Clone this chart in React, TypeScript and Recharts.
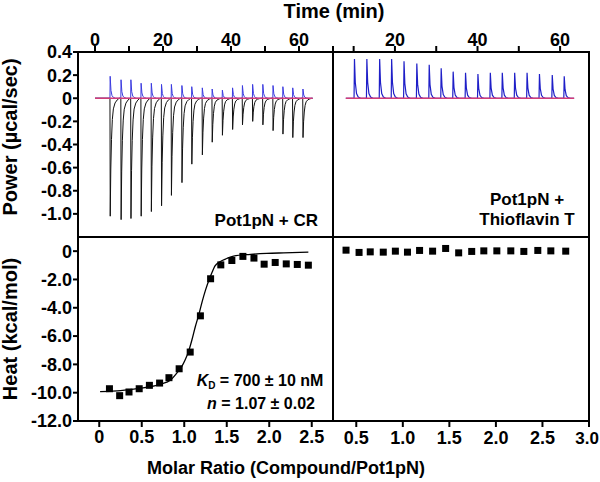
import React from 'react'
import { LineChart, Line, XAxis, YAxis, ComposedChart, Scatter } from 'recharts'

// Pot1pN + CR, raw power trace (injection times in min, peak power in µcal/sec)
const crInjTimes = [4.4, 7.6, 10.5, 13.5, 16.5, 19.5, 22.4, 25.5, 28.4, 31.5, 34.4, 37.4, 40.4, 43.3, 46.3, 49.3, 52.3, 55.2, 58.1, 61.1]
const crSamplePeaks = [-1.02, -1.05, -1.04, -1.02, -0.98, -0.93, -0.84, -0.73, -0.57, -0.49, -0.38, -0.32, -0.27, -0.23, -0.2, -0.23, -0.28, -0.31, -0.34, -0.34]
const crBufferPeaks = [0.19, 0.16, 0.16, 0.13, 0.13, 0.12, 0.12, 0.11, 0.1, 0.09, 0.08, 0.07, 0.09, 0.11, 0.12, 0.12, 0.11, 0.1, 0.09, 0.08]

// Pot1pN + Thioflavin T, raw power trace
const thtInjTimes = [10.1, 13.1, 16.2, 19.1, 22.1, 25.2, 28.2, 31.1, 34.0, 37.0, 40.0, 43.0, 45.9, 48.9, 51.9, 54.9, 58.0, 60.9]
const thtPeaks = [0.34, 0.34, 0.34, 0.34, 0.32, 0.3, 0.29, 0.26, 0.23, 0.22, 0.21, 0.22, 0.22, 0.22, 0.22, 0.21, 0.2, 0.19]

// integrated heats (kcal/mol) vs molar ratio
const crRatio = [0.12, 0.24, 0.35, 0.47, 0.59, 0.71, 0.82, 0.94, 1.07, 1.19, 1.31, 1.43, 1.56, 1.69, 1.82, 1.94, 2.07, 2.2, 2.33, 2.46]
const crHeat = [-9.72, -10.21, -9.95, -9.72, -9.48, -9.32, -8.94, -8.31, -7.13, -4.57, -1.95, -0.97, -0.66, -0.37, -0.49, -0.92, -0.8, -0.9, -0.94, -0.99]

// fitted one-site curve
const fitRatio = [0.01, 0.13, 0.25, 0.36, 0.48, 0.6, 0.72, 0.84, 0.91, 0.97, 1.01, 1.05, 1.09, 1.13, 1.17, 1.21, 1.25, 1.29, 1.33, 1.36, 1.42, 1.5, 1.58, 1.78, 1.97, 2.17, 2.46]
const fitHeat = [-9.93, -9.9, -9.86, -9.79, -9.69, -9.58, -9.39, -9.1, -8.63, -8.16, -7.69, -7.1, -6.28, -5.34, -4.52, -3.58, -2.75, -2.05, -1.46, -1.06, -0.75, -0.52, -0.35, -0.23, -0.16, -0.12, -0.07]

const thtRatio = [0.39, 0.53, 0.65, 0.79, 0.92, 1.05, 1.18, 1.32, 1.46, 1.6, 1.74, 1.87, 2.01, 2.16, 2.3, 2.45, 2.59, 2.75]
const thtHeat = [0.07, -0.09, -0.05, -0.07, 0, -0.07, 0.05, 0, 0.19, -0.12, -0.02, 0.02, 0.02, 0.02, -0.02, 0.05, 0.02, 0]

// peak shapes: [offset min, fraction of peak]
const sampleShape = [[0, 0], [0.08, 1], [0.25, 0.6], [0.45, 0.35], [0.7, 0.18], [1.0, 0.09], [1.5, 0.04], [2.1, 0.015], [2.7, 0]]
const bufferShape = [[0, 0], [0.06, 1], [0.3, 0.35], [0.6, 0.12], [1.0, 0.04], [1.6, 0]]
const thtShape = [[0, 0], [0.1, 1], [0.3, 0.4], [0.6, 0.12], [1.0, 0.03], [1.6, 0]]

function trace(times: number[], peaks: number[], shape: number[][], start: number, end: number) {
  const pts = [{ t: start, p: 0 }]
  times.forEach((t0, i) => shape.forEach(([dt, f]) => pts.push({ t: t0 + dt, p: peaks[i] * f })))
  pts.push({ t: end, p: 0 })
  return pts
}

const crSample = trace(crInjTimes, crSamplePeaks, sampleShape, 0, 64)
const crBuffer = trace(crInjTimes, crBufferPeaks, bufferShape, 0, 64)
const crBase = [{ t: 0, p: 0 }, { t: 64, p: 0 }]
const thtTrace = trace(thtInjTimes, thtPeaks, thtShape, 8.1, 63.4)
const thtBase = [{ t: 8.1, p: 0 }, { t: 63.4, p: 0 }]

const crPoints = crRatio.map((x, i) => ({ x, y: crHeat[i] }))
const crFit = fitRatio.map((x, i) => ({ x, y: fitHeat[i] }))
const thtPoints = thtRatio.map((x, i) => ({ x, y: thtHeat[i] }))

const FONT = '"Liberation Sans", Arial, Helvetica, sans-serif'
const tickStyle = { fill: '#000', fontSize: 18, fontWeight: 700, fontFamily: FONT }
const tickLine = { stroke: '#000', strokeWidth: 2 }
const fmt = (v: number) => (v === 0 ? '0' : v.toFixed(1))

// last label sits on the page edge, so pull it in
const RatioTick = (props: any) => {
  const { x, y, payload } = props
  const last = payload.value === 3
  return (
    <text x={last ? x + 10 : x} y={y + 14} textAnchor={last ? 'end' : 'middle'} {...tickStyle} fontSize={last ? 17 : 18}>
      {fmt(payload.value)}
    </text>
  )
}

const Square = (props: any) => (
  <rect x={props.cx - 3.5} y={props.cy - 3.5} width={7} height={7} fill="#000" />
)

const abs = (left: number, top: number): React.CSSProperties => ({ position: 'absolute', left, top })

export default function App() {
  return (
    <div style={{ position: 'absolute', left: 0, top: 0, width: 600, height: 482, background: '#fff', fontFamily: FONT, fontWeight: 700, color: '#000' }}>
      {/* top left: raw trace, CR */}
      <div style={abs(0, 0)}>
        <LineChart width={333} height={237} margin={{ top: 22, left: 18, right: 0, bottom: 0 }}>
          <XAxis type="number" dataKey="t" orientation="top" domain={[-5, 70]} ticks={[0, 10, 20, 30, 40, 50, 60]}
            tickFormatter={(v: number) => (v % 20 === 0 ? String(v) : '')} axisLine={false} tickLine={tickLine}
            tickSize={6} tickMargin={0} tick={tickStyle} height={30} allowDataOverflow interval={0} />
          <YAxis type="number" domain={[-1.2, 0.4]} ticks={[0.4, 0.2, 0, -0.2, -0.4, -0.6, -0.8, -1.0]} tickFormatter={fmt}
            axisLine={false} tickLine={tickLine} tickSize={5} tickMargin={1} tick={tickStyle} width={60} allowDataOverflow interval={0} />
          <Line data={crSample} dataKey="p" stroke="#111" strokeWidth={1} dot={false} isAnimationActive={false} />
          <Line data={crBuffer} dataKey="p" stroke="#3b3be0" strokeWidth={1} dot={false} isAnimationActive={false} />
          <Line data={crBase} dataKey="p" stroke="#d23c78" strokeWidth={1.5} dot={false} isAnimationActive={false} />
        </LineChart>
      </div>

      {/* top right: raw trace, ThT */}
      <div style={abs(333, 0)}>
        <LineChart width={267} height={237} margin={{ top: 22, left: 0, right: 11, bottom: 0 }}>
          <XAxis type="number" dataKey="t" orientation="top" domain={[5, 67]} ticks={[10, 20, 30, 40, 50, 60]}
            tickFormatter={(v: number) => (v % 20 === 0 ? String(v) : '')} axisLine={false} tickLine={tickLine}
            tickSize={6} tickMargin={0} tick={tickStyle} height={30} allowDataOverflow interval={0} />
          <YAxis hide type="number" domain={[-1.2, 0.4]} allowDataOverflow />
          <Line data={thtTrace} dataKey="p" stroke="#1f1fc8" strokeWidth={1.2} dot={false} isAnimationActive={false} />
          <Line data={thtBase} dataKey="p" stroke="#d23c78" strokeWidth={1.5} dot={false} isAnimationActive={false} />
        </LineChart>
      </div>

      {/* bottom left: binding isotherm, CR */}
      <div style={abs(0, 237)}>
        <ComposedChart width={333} height={245} margin={{ top: 0, left: 18, right: 0, bottom: 31 }}>
          <XAxis type="number" dataKey="x" domain={[-0.25, 2.75]} ticks={[0, 0.5, 1, 1.5, 2, 2.5]} tickFormatter={fmt}
            axisLine={false} tickLine={tickLine} tickSize={6} tickMargin={3} tick={tickStyle} height={30} allowDataOverflow interval={0} />
          <YAxis type="number" dataKey="y" domain={[-12, 1]} ticks={[0, -2, -4, -6, -8, -10, -12]} tickFormatter={fmt}
            axisLine={false} tickLine={tickLine} tickSize={5} tickMargin={1} tick={tickStyle} width={60} allowDataOverflow interval={0} />
          <Line data={crFit} dataKey="y" type="monotone" stroke="#000" strokeWidth={1.3} dot={false} isAnimationActive={false} />
          <Scatter data={crPoints} dataKey="y" fill="#000" shape={Square} isAnimationActive={false} />
        </ComposedChart>
      </div>

      {/* bottom right: ThT heats */}
      <div style={abs(333, 237)}>
        <ComposedChart width={267} height={245} margin={{ top: 0, left: 0, right: 11, bottom: 31 }}>
          <XAxis type="number" dataKey="x" domain={[0.25, 3]} ticks={[0.5, 1, 1.5, 2, 2.5, 3]}
            axisLine={false} tickLine={tickLine} tickSize={6} tickMargin={3} tick={<RatioTick />} height={30} allowDataOverflow interval={0} />
          <YAxis hide type="number" dataKey="y" domain={[-12, 1]} allowDataOverflow />
          <Scatter data={thtPoints} dataKey="y" fill="#000" shape={Square} isAnimationActive={false} />
        </ComposedChart>
      </div>

      {/* panel frame */}
      <svg width={600} height={482} style={{ position: 'absolute', left: 0, top: 0, pointerEvents: 'none' }}>
        <rect x={78} y={52} width={511} height={369} fill="none" stroke="#000" strokeWidth={2} />
        <line x1={333} y1={46} x2={333} y2={421} stroke="#000" strokeWidth={2} />
        <line x1={78} y1={237} x2={589} y2={237} stroke="#000" strokeWidth={2} />
      </svg>

      {/* titles and annotations */}
      <div style={{ ...abs(234, 1), width: 200, textAlign: 'center', fontSize: 20, lineHeight: '20px', whiteSpace: 'nowrap' }}>Time (min)</div>
      <div style={{ ...abs(86, 459), width: 400, textAlign: 'center', fontSize: 18, lineHeight: '18px', whiteSpace: 'nowrap' }}>Molar Ratio (Compound/Pot1pN)</div>
      <div style={{ ...abs(-90, 127), width: 200, height: 20, textAlign: 'center', fontSize: 20, lineHeight: '20px', whiteSpace: 'nowrap', transform: 'rotate(-90deg)' }}>Power (µcal/sec)</div>
      <div style={{ ...abs(-90, 319), width: 200, height: 20, textAlign: 'center', fontSize: 20, lineHeight: '20px', whiteSpace: 'nowrap', transform: 'rotate(-90deg)' }}>Heat (kcal/mol)</div>

      <div style={{ ...abs(150, 212), width: 168, textAlign: 'right', fontSize: 17, lineHeight: '17px', whiteSpace: 'nowrap' }}>Pot1pN + CR</div>
      <div style={{ ...abs(427, 190), width: 200, textAlign: 'center', fontSize: 17, lineHeight: '20px', whiteSpace: 'nowrap' }}>
        Pot1pN +<br />Thioflavin T
      </div>
      <div style={{ ...abs(160, 373), width: 200, textAlign: 'center', fontSize: 16, lineHeight: '16px', whiteSpace: 'nowrap' }}>
        <i>K</i><sub style={{ fontSize: 10, verticalAlign: -3 }}>D</sub> = 700 ± 10 nM
      </div>
      <div style={{ ...abs(161, 396), width: 200, textAlign: 'center', fontSize: 16, lineHeight: '16px', whiteSpace: 'nowrap' }}>
        <i>n</i> = 1.07 ± 0.02
      </div>
    </div>
  )
}
